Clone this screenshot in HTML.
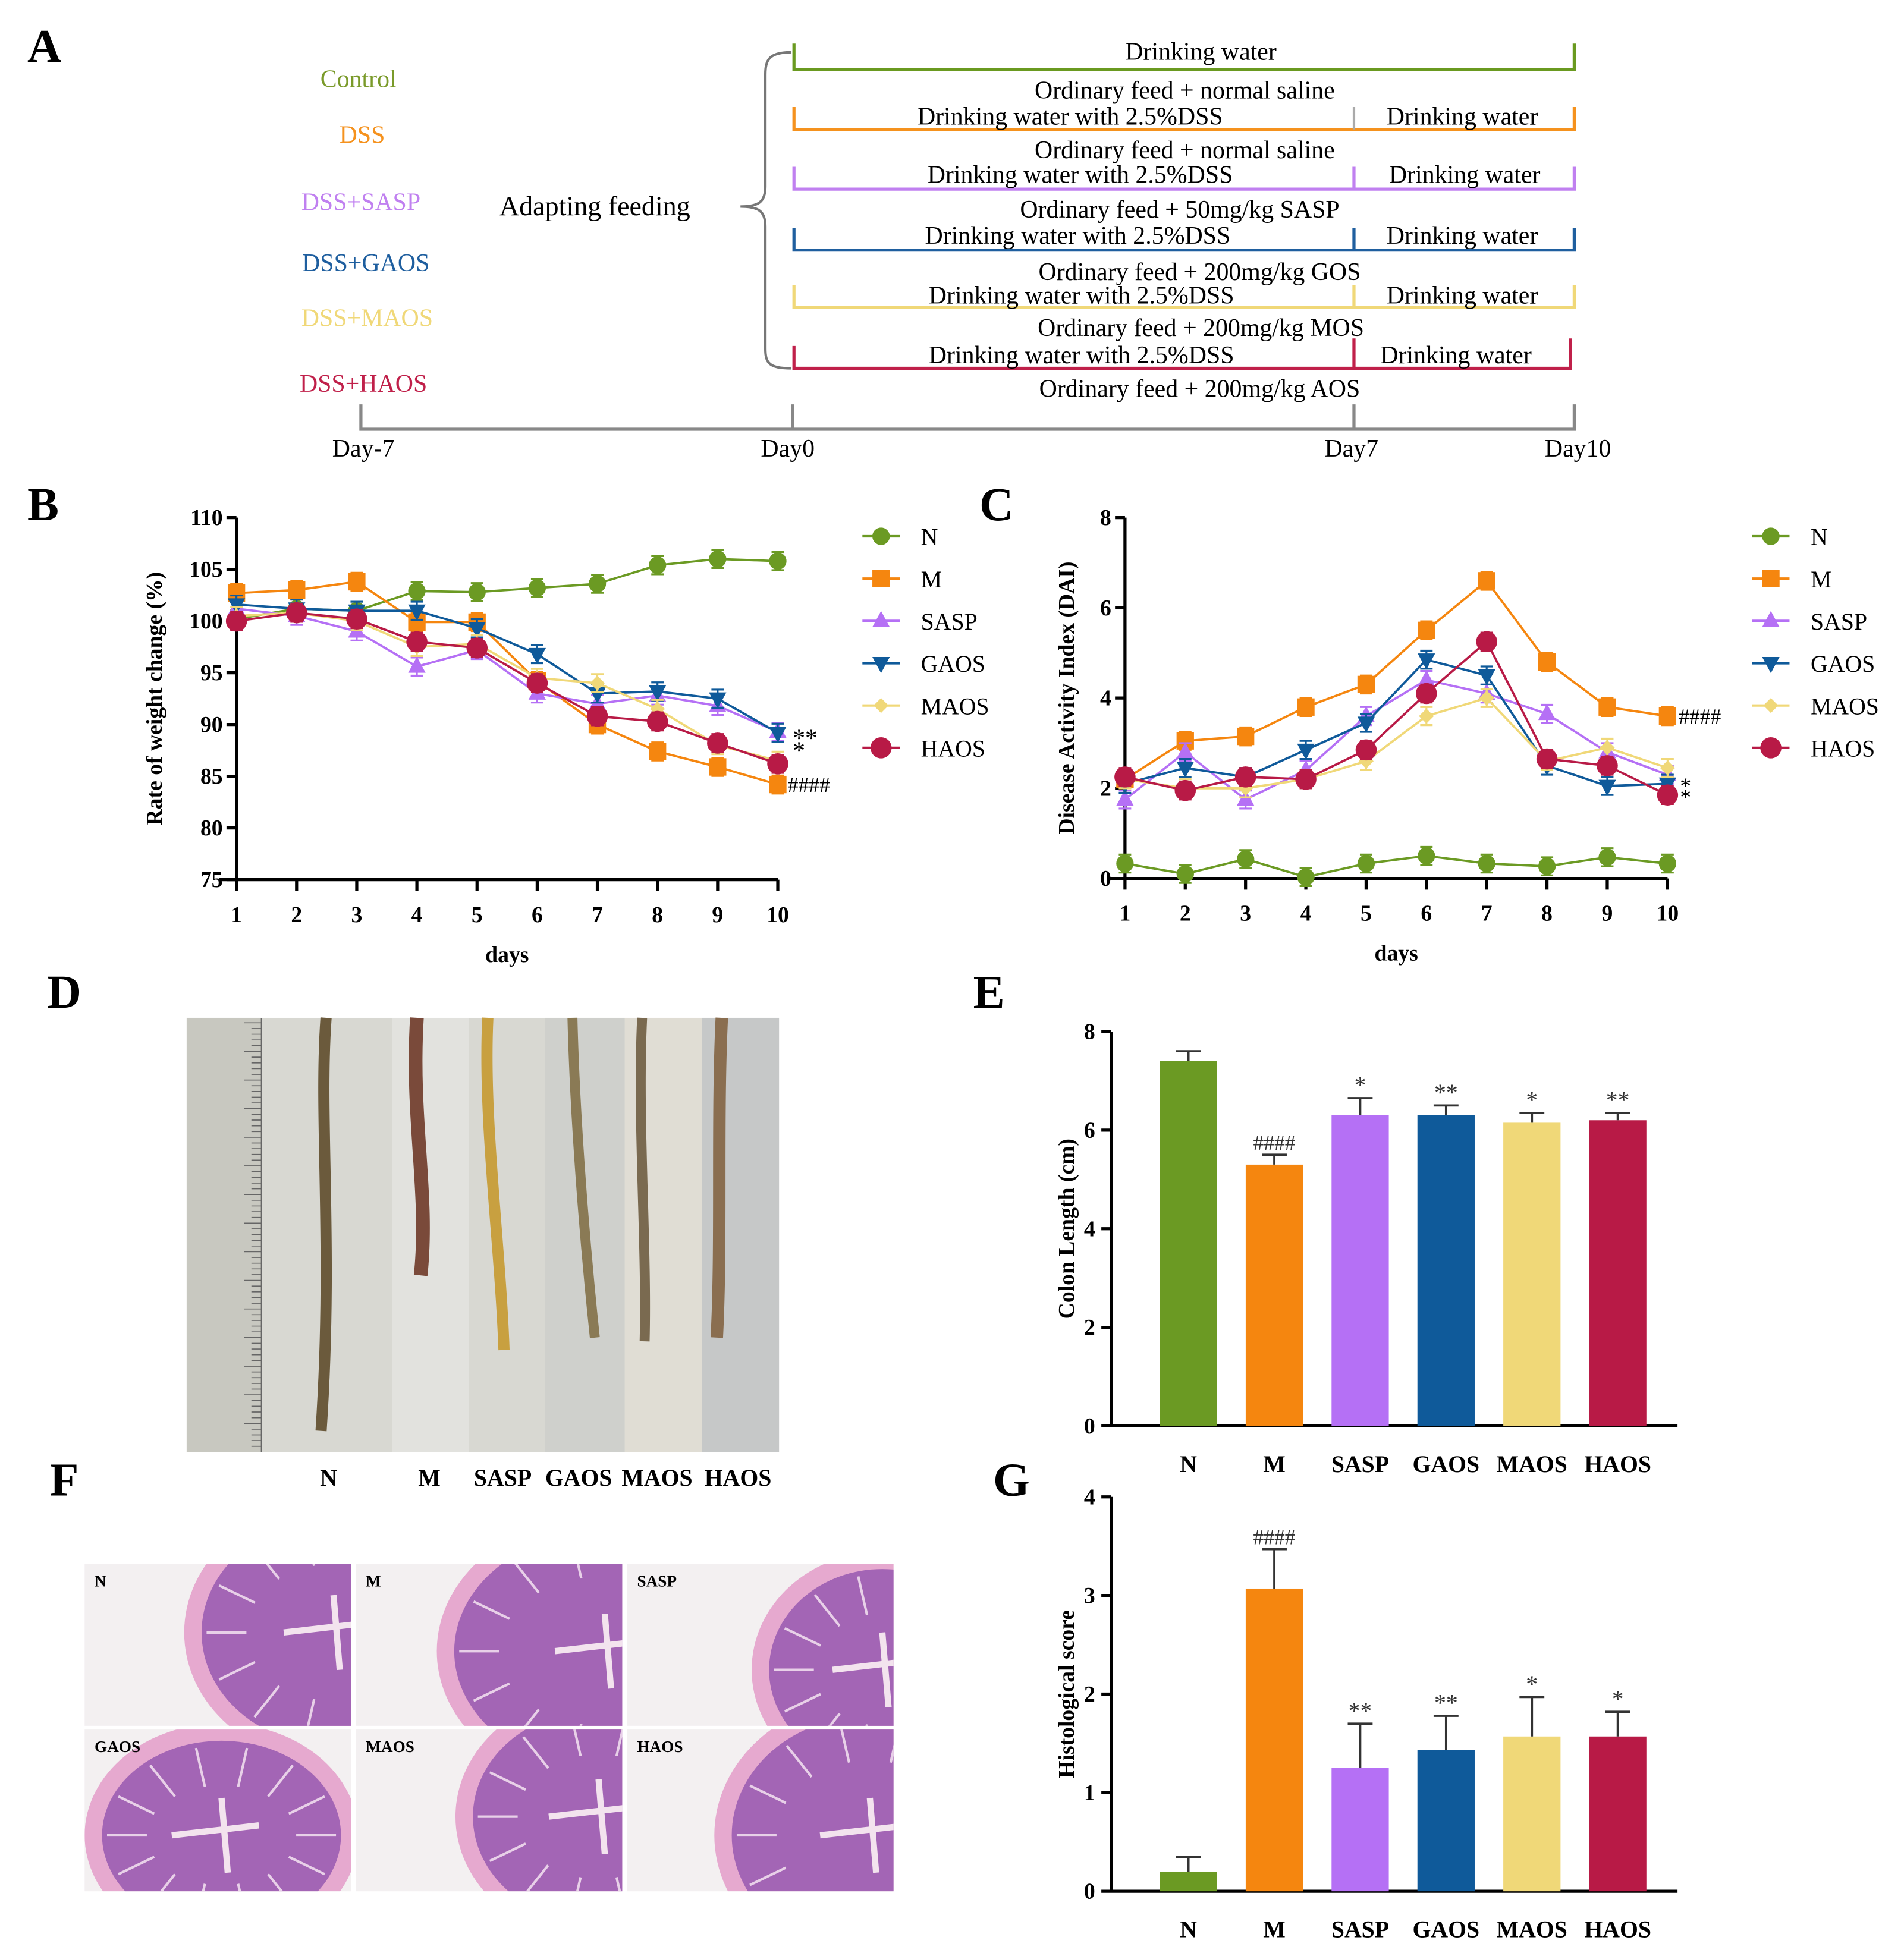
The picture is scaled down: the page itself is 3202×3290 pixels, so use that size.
<!DOCTYPE html>
<html><head><meta charset="utf-8"><style>
html,body{margin:0;padding:0;background:#fff}
svg{display:block;font-family:"Liberation Serif",serif}
svg text{font-family:"Liberation Serif",serif}
</style></head><body>
<svg id="fig" width="3202" height="3290" viewBox="0 0 1530 1572" preserveAspectRatio="none" xmlns="http://www.w3.org/2000/svg" font-family="Liberation Serif, serif">
<rect width="1530" height="1572" fill="#fff"/>
<g font-size="20" font-family="Liberation Serif, serif">
<text x="22" y="50" font-size="38" font-weight="bold">A</text>
<text x="288" y="70" text-anchor="middle" fill="#7a9a2a">Control</text>
<text x="291" y="115" text-anchor="middle" fill="#f5921e">DSS</text>
<text x="290" y="169" text-anchor="middle" fill="#c080f0">DSS+SASP</text>
<text x="294" y="218" text-anchor="middle" fill="#1f5f9f">DSS+GAOS</text>
<text x="295" y="262" text-anchor="middle" fill="#f0d878">DSS+MAOS</text>
<text x="292" y="315" text-anchor="middle" fill="#c0204a">DSS+HAOS</text>
<text x="478" y="173" text-anchor="middle" font-size="22">Adapting feeding</text>
<path d="M636,42 C618,42 615,48 615,60 L615,150 C615,162 610,166 595,166 C610,166 615,170 615,182 L615,280 C615,292 618,296 636,296" fill="none" stroke="#777" stroke-width="2"/>
<g stroke="#6a9a20" stroke-width="2.5" fill="none"><path d="M638,35 V56 H1265 V35"/></g>
<text x="965" y="48" text-anchor="middle">Drinking water</text>
<text x="952" y="79" text-anchor="middle">Ordinary feed + normal saline</text>
<g stroke="#f5921e" stroke-width="2.5" fill="none"><path d="M638,86 V104 H1265 V86"/></g>
<line x1="1088" y1="86" x2="1088" y2="104" stroke="#aaa" stroke-width="2"/>
<text x="860" y="100" text-anchor="middle">Drinking water with 2.5%DSS</text><text x="1175" y="100" text-anchor="middle">Drinking water</text>
<text x="952" y="127" text-anchor="middle">Ordinary feed + normal saline</text>
<g stroke="#c080f0" stroke-width="2.5" fill="none"><path d="M638,134 V152 H1265 V134 M1088,134 V152"/></g>
<text x="868" y="147" text-anchor="middle">Drinking water with 2.5%DSS</text><text x="1177" y="147" text-anchor="middle">Drinking water</text>
<text x="948" y="175" text-anchor="middle">Ordinary feed + 50mg/kg SASP</text>
<g stroke="#1f5f9f" stroke-width="2.5" fill="none"><path d="M638,183 V201 H1265 V183 M1088,183 V201"/></g>
<text x="866" y="196" text-anchor="middle">Drinking water with 2.5%DSS</text><text x="1175" y="196" text-anchor="middle">Drinking water</text>
<text x="964" y="225" text-anchor="middle">Ordinary feed + 200mg/kg GOS</text>
<g stroke="#f0d878" stroke-width="2.5" fill="none"><path d="M638,229 V247 H1265 V229 M1088,229 V247"/></g>
<text x="869" y="244" text-anchor="middle">Drinking water with 2.5%DSS</text><text x="1175" y="244" text-anchor="middle">Drinking water</text>
<text x="965" y="270" text-anchor="middle">Ordinary feed + 200mg/kg MOS</text>
<g stroke="#c0204a" stroke-width="2.5" fill="none"><path d="M638,278 V296 H1262 V272 M1088,272 V296"/></g>
<text x="869" y="292" text-anchor="middle">Drinking water with 2.5%DSS</text><text x="1170" y="292" text-anchor="middle">Drinking water</text>
<text x="964" y="319" text-anchor="middle">Ordinary feed + 200mg/kg AOS</text>
<g stroke="#888" stroke-width="2.5" fill="none"><path d="M290,325 V345 H1265 V325 M637,325 V345 M1088,325 V345"/></g>
<text x="292" y="367" text-anchor="middle">Day-7</text><text x="633" y="367" text-anchor="middle">Day0</text>
<text x="1086" y="367" text-anchor="middle">Day7</text><text x="1268" y="367" text-anchor="middle">Day10</text>
</g>
<text x="22" y="418" font-size="38" font-weight="bold">B</text>
<text x="787" y="418" font-size="38" font-weight="bold">C</text>
<text x="38" y="810" font-size="38" font-weight="bold">D</text>
<text x="782" y="810" font-size="38" font-weight="bold">E</text>
<text x="40" y="1202" font-size="38" font-weight="bold">F</text>
<text x="798" y="1202" font-size="38" font-weight="bold">G</text>
<g>
<rect x="150" y="818" width="476" height="349" fill="#d8d8d2"/>
<rect x="150" y="818" width="60" height="349" fill="#c8c8c0"/>
<rect x="315" y="818" width="62" height="349" fill="#e2e2de"/>
<rect x="438" y="818" width="64" height="349" fill="#cfd0cc"/>
<rect x="502" y="818" width="62" height="349" fill="#e0ddd4"/>
<rect x="564" y="818" width="62" height="349" fill="#c6c8c8"/>
<g stroke="#666" stroke-width="0.8" id="ruler"></g>
<path d="M262,818 C256,900 268,1000 258,1150" stroke="#6b5a3c" stroke-width="9" fill="none"/>
<path d="M335,818 C330,900 345,960 338,1025" stroke="#7a4a3a" stroke-width="11" fill="none"/>
<path d="M392,818 C388,900 402,1000 405,1085" stroke="#c8a040" stroke-width="9" fill="none"/>
<path d="M460,818 C462,900 470,1000 478,1075" stroke="#8a7a55" stroke-width="8" fill="none"/>
<path d="M516,818 C512,900 520,1000 518,1078" stroke="#7a6a50" stroke-width="8" fill="none"/>
<path d="M580,818 C576,900 580,1000 576,1075" stroke="#8a6e50" stroke-width="10" fill="none"/>
</g>
<g font-size="19" font-weight="bold" text-anchor="middle">
<text x="264" y="1194">N</text><text x="345" y="1194">M</text><text x="404" y="1194">SASP</text><text x="465" y="1194">GAOS</text><text x="528" y="1194">MAOS</text><text x="593" y="1194">HAOS</text>
</g>
<g id="histo"></g>
<g id="chartB"></g>
<g id="chartC"></g>
<g id="chartE"></g>
<g id="chartG"></g>
</svg>
<script>
const days=[1,2,3,4,5,6,7,8,9,10];
const groups=["N","M","SASP","GAOS","MAOS","HAOS"];
const colors=["#6b9a23","#f5860f","#b570f5","#0f5a9a","#f0d878","#b81a46"];
const markers=["circle","square","tri","tridown","diamond","bigcircle"];
const weightN=[100.2,101.2,101.0,102.9,102.8,103.2,103.6,105.4,106.0,105.8];
const weightM=[102.7,103.0,103.8,99.9,99.9,94.2,90.0,87.4,85.9,84.2];
const weightSASP=[101.2,100.5,99.0,95.6,97.2,93.0,92.0,92.8,91.8,89.3];
const weightGAOS=[101.6,101.2,101.0,101.0,99.3,96.8,93.0,93.2,92.5,89.2];
const weightMAOS=[100.5,100.8,100.0,97.5,97.8,94.5,94.0,91.5,88.0,86.5];
const weightHAOS=[100.0,100.8,100.2,98.0,97.4,94.0,90.8,90.3,88.2,86.2];
const weightTicks=[75,80,85,90,95,100,105,110];
const daiN=[0.33,0.1,0.43,0.03,0.33,0.5,0.33,0.27,0.47,0.33];
const daiM=[2.2,3.05,3.15,3.8,4.3,5.5,6.6,4.8,3.8,3.6];
const daiSASP=[1.75,2.8,1.75,2.4,3.6,4.4,4.1,3.65,2.8,2.3];
const daiGAOS=[2.1,2.45,2.25,2.85,3.45,4.85,4.5,2.5,2.05,2.1];
const daiMAOS=[2.2,2.0,2.0,2.2,2.6,3.6,4.0,2.6,2.9,2.45];
const daiHAOS=[2.25,1.95,2.25,2.2,2.85,4.1,5.25,2.65,2.5,1.85];
const daiTicks=[0,2,4,6,8];
const lengthVals=[7.4,5.3,6.3,6.3,6.15,6.2];
const lengthErr=[0.2,0.2,0.35,0.2,0.2,0.15];
const lengthSig=["","####","*","**","*","**"];
const lengthTicks=[0,2,4,6,8];
const scoreVals=[0.2,3.07,1.25,1.43,1.57,1.57];
const scoreErr=[0.15,0.4,0.45,0.35,0.4,0.25];
const scoreSig=["","####","**","**","*","*"];
const scoreTicks=[0,1,2,3,4];

const NS="http://www.w3.org/2000/svg";
function mk(p,tag,a,txt){const e=document.createElementNS(NS,tag);for(const k in a)e.setAttribute(k,a[k]);if(txt!==undefined)e.textContent=txt;p.appendChild(e);return e;}

const rul=document.getElementById('ruler');
for(let y=822;y<1165;y+=4.6){mk(rul,'line',{x1:210-((Math.round((y-822)/4.6))%5==0?14:8),y1:y,x2:210,y2:y});}
mk(rul,'line',{x1:210,y1:818,x2:210,y2:1167});

const hg=document.getElementById('histo');
const hl=["N","M","SASP","GAOS","MAOS","HAOS"];
hl.forEach((n,i)=>{const c=i%3,r=Math.floor(i/3);const x=68+c*218;const yy=1257+r*133;
 const g=mk(hg,'g',{});
 
 
 mk(g,'rect',{x:x,y:yy,width:214,height:130,fill:'#f3f0f1'});
 const cp=mk(g,'clipPath',{id:'cp'+i});
 mk(cp,'rect',{x:x,y:yy,width:214,height:130});
 const cg=mk(g,'g',{'clip-path':'url(#cp'+i+')'});
 const cx=x+[200,200,205,110,195,195][i],cy=yy+[55,70,85,85,70,85][i];
 const rx=[120,135,105,110,115,125][i],ry=[105,110,95,90,100,110][i];
 mk(cg,'ellipse',{cx:cx,cy:cy,rx:rx,ry:ry,fill:'#e6a9cf'});
 mk(cg,'ellipse',{cx:cx,cy:cy,rx:rx-14,ry:ry-14,fill:'#a365b5'});
 for(let k=0;k<14;k++){const a=k*Math.PI/7;mk(cg,'line',{x1:cx+Math.cos(a)*(rx-50),y1:cy+Math.sin(a)*(ry-50),x2:cx+Math.cos(a)*(rx-18),y2:cy+Math.sin(a)*(ry-18),stroke:'#e8d0e8','stroke-width':2});}
 mk(cg,'path',{d:`M${cx-40},${cy} L${cx+30},${cy-8} M${cx},${cy-30} L${cx+5},${cy+30}`,stroke:'#f3e3ee','stroke-width':5});
 mk(g,'text',{x:x+8,y:yy+18,'font-size':13,'font-weight':'bold'},n);
});

function marker(g,type,x,y,col){
 let e;
 if(type=="circle")e=mk(g,'circle',{cx:x,cy:y,r:7,fill:col});
 else if(type=="bigcircle")e=mk(g,'circle',{cx:x,cy:y,r:8.5,fill:col});
 else if(type=="square")e=mk(g,'rect',{x:x-7,y:y-7,width:14,height:14,fill:col});
 else if(type=="tri")e=mk(g,'path',{d:`M${x},${y-8}L${x+7},${y+5}L${x-7},${y+5}Z`,fill:col});
 else if(type=="tridown")e=mk(g,'path',{d:`M${x},${y+8}L${x+7},${y-5}L${x-7},${y-5}Z`,fill:col});
 else e=mk(g,'path',{d:`M${x},${y-6}L${x+6},${y}L${x},${y+6}L${x-6},${y}Z`,fill:col});
 return e;
}

function lineChart(id,series,ticks,ox,x1,ytop,ybot,ymin,ymax,ytitle,ttx,legx,sigs){
 const g=document.getElementById(id);
 const X=d=>ox+(d-1)*(x1-ox)/9;
 const Y=v=>ybot-(v-ymin)*(ybot-ytop)/(ymax-ymin);
 mk(g,'line',{x1:ox,y1:ytop,x2:ox,y2:ybot,stroke:'#000','stroke-width':2.5});
 mk(g,'line',{x1:ox-14,y1:ybot,x2:x1,y2:ybot,stroke:'#000','stroke-width':2.5});
 ticks.forEach(t=>{mk(g,'line',{x1:ox-8,y1:Y(t),x2:ox,y2:Y(t),stroke:'#000','stroke-width':2.5});
  const tl=mk(g,'text',{x:ox-11,y:Y(t)+6,'text-anchor':'end','font-size':18,'font-weight':'bold'},t);
  
  });
 days.forEach(d=>{mk(g,'line',{x1:X(d),y1:ybot,x2:X(d),y2:ybot+9,stroke:'#000','stroke-width':2.5});
  const tl=mk(g,'text',{x:X(d),y:ybot+34,'text-anchor':'middle','font-size':18,'font-weight':'bold'},d);
  
  });
 const xt=mk(g,'text',{x:(ox+x1)/2,y:ybot+66,'text-anchor':'middle','font-size':18,'font-weight':'bold'},'days');
 
 
 const yt=mk(g,'text',{x:0,y:0,transform:`translate(${ttx},${(ytop+ybot)/2}) rotate(-90)`,'text-anchor':'middle','font-size':18,'font-weight':'bold'},ytitle);
 
 
 series.forEach((s,i)=>{
  const sg=mk(g,'g',{});
  
  
  mk(sg,'polyline',{points:s.map((v,k)=>X(days[k])+','+Y(v)).join(' '),fill:'none',stroke:colors[i],'stroke-width':1.8});
  s.forEach((v,k)=>{const e=(ymax-ymin)*0.025;mk(sg,'path',{d:`M${X(days[k])},${Y(v-e)}V${Y(v+e)}M${X(days[k])-5},${Y(v+e)}h10M${X(days[k])-5},${Y(v-e)}h10`,stroke:colors[i],'stroke-width':1.5,fill:'none'});
   const m=marker(sg,markers[i],X(days[k]),Y(v),colors[i]);
   
   });
  const le=mk(g,'g',{});
  
  
  const ly=431+i*34;
  mk(le,'line',{x1:legx,y1:ly,x2:legx+30,y2:ly,stroke:colors[i],'stroke-width':2});
  marker(le,markers[i],legx+15,ly,colors[i]);
  mk(le,'text',{x:legx+47,y:ly+7,'font-size':19},groups[i]);
 });
 sigs.forEach(s=>{mk(g,'text',{x:X(10)+s[2],y:Y(s[0])+6,'font-size':s[3]||17},s[1]);});
}
lineChart('chartB',[weightN,weightM,weightSASP,weightGAOS,weightMAOS,weightHAOS],weightTicks,190,625,416,707,75,110,'Rate of weight change (%)',130,693,[[88.6,'**',12,20],[87.4,'*',12,20],[84.2,'####',8]]);
lineChart('chartC',[daiN,daiM,daiSASP,daiGAOS,daiMAOS,daiHAOS],daiTicks,904,1340,416,706,0,8,'Disease Activity Index (DAI)',863,1408,[[3.6,'####',9],[2.05,'*',10,18],[1.8,'*',10,18]]);

function barChart(id,vals,errs,sigs,ticks,ymax,ytop,ybot,title){
 const g=document.getElementById(id);
 const ox=893,x1=1348;
 const Y=v=>ybot-v*(ybot-ytop)/ymax;
 const cx=i=>955+i*69;
 mk(g,'line',{x1:ox,y1:ytop,x2:ox,y2:ybot,stroke:'#000','stroke-width':2.5});
 mk(g,'line',{x1:ox,y1:ybot,x2:x1,y2:ybot,stroke:'#000','stroke-width':2.5});
 ticks.forEach(t=>{mk(g,'line',{x1:ox-8,y1:Y(t),x2:ox,y2:Y(t),stroke:'#000','stroke-width':2.5});
  const tl=mk(g,'text',{x:ox-13,y:Y(t)+6,'text-anchor':'end','font-size':18,'font-weight':'bold'},t);
  
  });
 const yt=mk(g,'text',{x:0,y:0,transform:`translate(${ox-30},${(ytop+ybot)/2}) rotate(-90)`,'text-anchor':'middle','font-size':18,'font-weight':'bold'},title);
 
 
 vals.forEach((v,i)=>{
  const b=mk(g,'rect',{x:cx(i)-23,y:Y(v),width:46,height:ybot-Y(v),fill:colors[i]});
  
  
  mk(g,'path',{d:`M${cx(i)},${Y(v)}V${Y(v+errs[i])}M${cx(i)-10},${Y(v+errs[i])}h20`,stroke:'#333','stroke-width':1.8,fill:'none'});
  if(sigs[i]){const s=mk(g,'text',{x:cx(i),y:Y(v+errs[i])-4,'text-anchor':'middle','font-size':sigs[i][0]=='#'?17:19,fill:'#333'},sigs[i]);
   
   }
  const l=mk(g,'text',{x:cx(i),y:ybot+37,'text-anchor':'middle','font-size':19,'font-weight':'bold'},groups[i]);
  
  
 });
}
barChart('chartE',lengthVals,lengthErr,lengthSig,lengthTicks,8,829,1146,'Colon Length (cm)');
barChart('chartG',scoreVals,scoreErr,scoreSig,scoreTicks,4,1203,1520,'Histological score');
</script>
</body></html>
